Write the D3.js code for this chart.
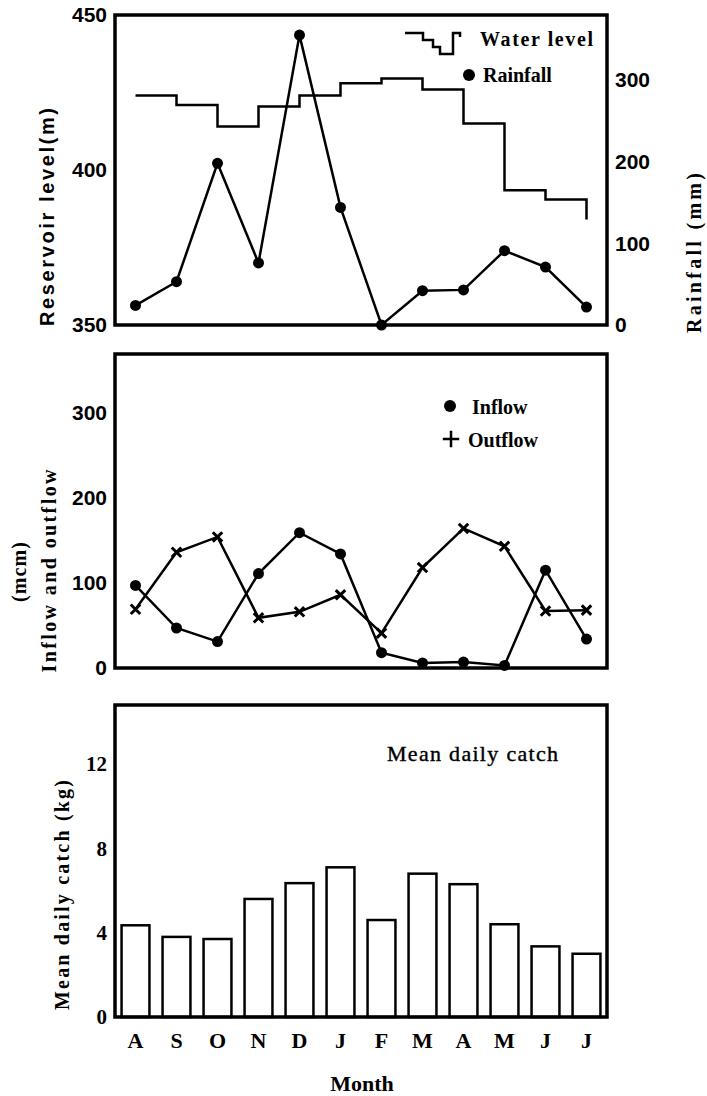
<!DOCTYPE html>
<html>
<head>
<meta charset="utf-8">
<script src="https://cdn.jsdelivr.net/npm/d3@7"></script>
<style>
  body { margin: 0; background: #fff; }
  svg { display: block; }
</style>
</head>
<body>
<svg id="chart" width="707" height="1096"></svg>
<script>
// month labels (Aug -> Jul)
var months = ['A','S','O','N','D','J','F','M','A','M','J','J'];

// top panel
var waterLevel = [424, 421, 414, 420.5, 424, 428, 429.5, 426, 415, 393.5, 390.5, 384];
var rainfall = [24, 53, 198, 76, 355, 144, 0, 42, 43, 91, 71, 22];
var levelTicks = [350, 400, 450];
var rainTicks = [0, 100, 200, 300];

// middle panel
var inflow = [97, 47, 31, 111, 159, 134, 18, 6, 7, 3, 115, 34];
var outflow = [69, 136, 154, 59, 66, 86, 41, 118, 164, 143, 67, 68];
var flowTicks = [0, 100, 200, 300];

// bottom panel
var catchKg = [4.35, 3.8, 3.7, 5.6, 6.35, 7.1, 4.6, 6.8, 6.3, 4.4, 3.35, 3.0];
var catchTicks = [0, 4, 8, 12];

const svg = d3.select('#chart');
const left = 115, right = 607;
const serif = '"Liberation Serif", "Times New Roman", serif';
const narrow = '"Liberation Sans Narrow", "Liberation Sans", Arial, sans-serif';

const x = d3.scaleBand()
    .domain(d3.range(months.length))
    .range([left, right])
    .paddingInner(0.32)
    .paddingOuter(0.16);
const cx = i => x(i) + x.bandwidth() / 2;

//frame around a panel
function box(top, bottom) {
    svg.append('rect')
        .attr('x', left)
        .attr('y', top)
        .attr('width', right - left)
        .attr('height', bottom - top)
        .attr('fill', 'none')
        .attr('stroke', 'black')
        .attr('stroke-width', 3.5);
}

//tick labels only, no tick lines
function ticks(axis, xpos, font) {
    const g = svg.append('g')
        .attr('transform', `translate(${xpos},0)`)
        .call(axis.tickSize(0).tickPadding(8));
    g.select('.domain').remove();
    g.selectAll('text')
        .attr('font-family', font)
        .attr('font-weight', 'bold')
        .attr('font-size', '21px')
        .attr('fill', 'black');
}

//rotated axis title
function vtitle(txt, xpos, ypos, len, font) {
    svg.append('text')
        .attr('transform', `translate(${xpos},${ypos}) rotate(-90)`)
        .attr('text-anchor', 'middle')
        .attr('dominant-baseline', 'central')
        .attr('font-family', font)
        .attr('font-weight', 'bold')
        .attr('font-size', '20px')
        .attr('textLength', len)
        .attr('lengthAdjust', 'spacing')
        .text(txt);
}

// ---------- top panel ----------
const yLevel = d3.scaleLinear().domain([350, 450]).range([325, 15]);
const yRain = d3.scaleLinear().domain([0, 379.6]).range([325, 15]);

svg.append('path')
    .datum(waterLevel)
    .attr('d', d3.line().x((d, i) => cx(i)).y(d => yLevel(d)).curve(d3.curveStepAfter))
    .attr('fill', 'none')
    .attr('stroke', 'black')
    .attr('stroke-width', 2.5);

svg.append('path')
    .datum(rainfall)
    .attr('d', d3.line().x((d, i) => cx(i)).y(d => yRain(d)))
    .attr('fill', 'none')
    .attr('stroke', 'black')
    .attr('stroke-width', 2.5);

svg.selectAll('.rain')
    .data(rainfall)
    .enter().append('circle')
    .attr('cx', (d, i) => cx(i))
    .attr('cy', d => yRain(d))
    .attr('r', 5.5)
    .attr('fill', 'black');

box(15, 325);
ticks(d3.axisLeft(yLevel).tickValues(levelTicks), left, narrow);
ticks(d3.axisRight(yRain).tickValues(rainTicks), right, narrow);
vtitle('Reservoir level(m)', 47, 217, 218, '"Liberation Sans", Arial, sans-serif');
vtitle('Rainfall (mm)', 694, 253, 160, serif);

//legend top
const lg1 = svg.append('g').attr('transform', 'translate(405,33)');
lg1.append('path')
    .attr('d', 'M0 0 H18 V7 H28 V14 H35 V21 H48 V0 H55 V4')
    .attr('fill', 'none')
    .attr('stroke', 'black')
    .attr('stroke-width', 2.5);
lg1.append('text')
    .attr('x', 75).attr('y', 6)
    .attr('dominant-baseline', 'central')
    .attr('font-family', serif).attr('font-weight', 'bold').attr('font-size', '20px')
    .attr('textLength', 113).attr('lengthAdjust', 'spacing')
    .text('Water level');
lg1.append('circle').attr('cx', 64).attr('cy', 42).attr('r', 6).attr('fill', 'black');
lg1.append('text')
    .attr('x', 78).attr('y', 42)
    .attr('dominant-baseline', 'central')
    .attr('font-family', serif).attr('font-weight', 'bold').attr('font-size', '20px')
    .text('Rainfall');

// ---------- middle panel ----------
const yFlow = d3.scaleLinear().domain([0, 369]).range([668, 354]);
const flowLine = d3.line().x((d, i) => cx(i)).y(d => yFlow(d));

svg.append('path').datum(inflow).attr('d', flowLine)
    .attr('fill', 'none').attr('stroke', 'black').attr('stroke-width', 2.5);
svg.append('path').datum(outflow).attr('d', flowLine)
    .attr('fill', 'none').attr('stroke', 'black').attr('stroke-width', 2.5);

svg.selectAll('.inflow')
    .data(inflow)
    .enter().append('circle')
    .attr('cx', (d, i) => cx(i))
    .attr('cy', d => yFlow(d))
    .attr('r', 5.5)
    .attr('fill', 'black');

svg.selectAll('.outflow')
    .data(outflow)
    .enter().append('path')
    .attr('transform', (d, i) => `translate(${cx(i)},${yFlow(d)})`)
    .attr('d', d3.symbol(d3.symbolTimes, 60))
    .attr('fill', 'none')
    .attr('stroke', 'black')
    .attr('stroke-width', 3);

box(354, 668);
ticks(d3.axisLeft(yFlow).tickValues(flowTicks), left, narrow);
vtitle('Inflow and outflow', 49, 571, 203, serif);
vtitle('(mcm)', 19, 572, 60, serif);

//legend middle
const lg2 = svg.append('g').attr('transform', 'translate(450,406)');
lg2.append('circle').attr('cx', 0).attr('cy', 0).attr('r', 6).attr('fill', 'black');
lg2.append('text')
    .attr('x', 22).attr('y', 1)
    .attr('dominant-baseline', 'central')
    .attr('font-family', serif).attr('font-weight', 'bold').attr('font-size', '20px')
    .text('Inflow');
lg2.append('path')
    .attr('transform', 'translate(1,33)')
    .attr('d', d3.symbol(d3.symbolPlus, 90))
    .attr('fill', 'none').attr('stroke', 'black').attr('stroke-width', 2.5);
lg2.append('text')
    .attr('x', 18).attr('y', 34)
    .attr('dominant-baseline', 'central')
    .attr('font-family', serif).attr('font-weight', 'bold').attr('font-size', '20px')
    .text('Outflow');

// ---------- bottom panel ----------
const yCatch = d3.scaleLinear().domain([0, 14.8]).range([1017, 705]);

svg.selectAll('.bar')
    .data(catchKg)
    .enter().append('rect')
    .attr('x', (d, i) => x(i))
    .attr('y', d => yCatch(d))
    .attr('width', x.bandwidth())
    .attr('height', d => yCatch(0) - yCatch(d))
    .attr('fill', 'white')
    .attr('stroke', 'black')
    .attr('stroke-width', 2.5);

box(705, 1017);
ticks(d3.axisLeft(yCatch).tickValues(catchTicks), left, serif);
vtitle('Mean daily catch (kg)', 62, 895, 230, serif);

svg.append('text')
    .attr('x', 387).attr('y', 753)
    .attr('dominant-baseline', 'central')
    .attr('font-family', serif).attr('font-size', '22px')
    .attr('stroke', 'black').attr('stroke-width', 0.4)
    .attr('textLength', 171).attr('lengthAdjust', 'spacing')
    .text('Mean daily catch');

//month labels
svg.selectAll('.month')
    .data(months)
    .enter().append('text')
    .attr('x', (d, i) => cx(i))
    .attr('y', 1040)
    .attr('text-anchor', 'middle')
    .attr('dominant-baseline', 'central')
    .attr('font-family', serif)
    .attr('font-weight', 'bold')
    .attr('font-size', '22px')
    .text(d => d);

svg.append('text')
    .attr('x', 362).attr('y', 1083)
    .attr('text-anchor', 'middle')
    .attr('dominant-baseline', 'central')
    .attr('font-family', serif)
    .attr('font-weight', 'bold')
    .attr('font-size', '22px')
    .text('Month');
</script>
</body>
</html>
